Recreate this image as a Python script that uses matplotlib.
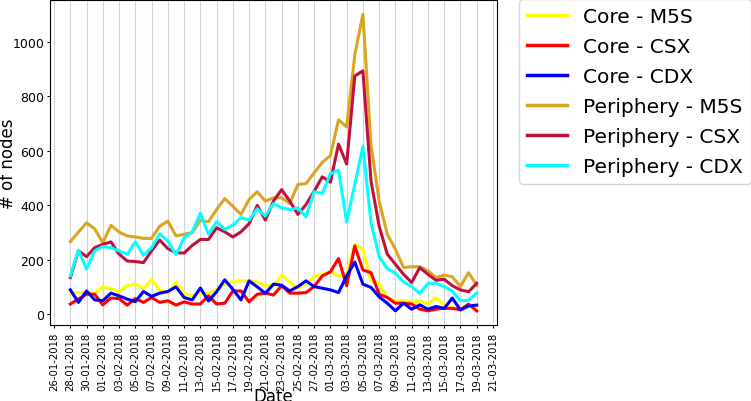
import matplotlib
matplotlib.use("Agg")
import matplotlib.pyplot as plt
import matplotlib.dates as mdates
import pandas as pd

dates = pd.date_range("2018-01-28", "2018-03-19", freq="D")

core_m5s = [77, 79, 79, 77, 100, 94, 82, 104, 110, 94, 128, 88, 77, 118, 76, 67, 77, 76, 89, 110, 120, 122, 122, 118, 104, 104,
            143, 118, 94, 110, 138, 146, 155, 140, 146, 256, 238, 122, 112, 59, 49, 49, 43, 49, 37, 61, 30, 24, 18, 30, 24]
core_csx = [37, 55, 73, 73, 34, 59, 57, 33, 57, 43, 61, 43, 49, 33, 45, 37, 37, 67, 37, 40, 85, 85, 45, 73, 77, 70,
            104, 77, 77, 79, 101, 140, 155, 204, 104, 250, 162, 152, 73, 61, 40, 40, 37, 18, 12, 18, 21, 21, 16, 37, 12]
core_cdx = [89, 43, 85, 52, 49, 77, 67, 55, 46, 83, 65, 77, 83, 100, 61, 52, 96, 48, 82, 126, 91, 52, 122, 100, 76, 110,
            106, 85, 101, 122, 101, 95, 89, 79, 140, 191, 110, 98, 63, 40, 12, 40, 18, 34, 18, 28, 21, 59, 15, 30, 33]
peri_m5s = [266, 301, 335, 313, 262, 326, 301, 287, 283, 278, 278, 323, 341, 287, 293, 299, 344, 339, 384, 424, 396, 366, 421, 449, 415, 427,
            427, 406, 476, 479, 518, 557, 582, 713, 687, 951, 1101, 620, 415, 293, 238, 171, 174, 174, 159, 134, 143, 137, 101, 152, 106]
peri_csx = [134, 232, 211, 244, 256, 265, 220, 195, 193, 189, 232, 272, 240, 226, 224, 252, 274, 274, 317, 302, 283, 302, 332, 399, 345, 415,
            457, 415, 366, 402, 451, 504, 484, 624, 551, 874, 893, 488, 323, 220, 183, 146, 116, 171, 146, 124, 128, 104, 89, 82, 113]
peri_cdx = [140, 235, 165, 232, 248, 244, 232, 220, 265, 216, 244, 295, 268, 218, 280, 302, 370, 293, 339, 311, 327, 354, 345, 387, 360, 406,
            390, 384, 390, 357, 449, 443, 515, 528, 338, 476, 616, 335, 211, 167, 150, 118, 101, 76, 113, 113, 101, 85, 49, 51, 77]

series = [
    ("Core - M5S", core_m5s, "#FFFF00"),
    ("Core - CSX", core_csx, "#FF0000"),
    ("Core - CDX", core_cdx, "#0000FF"),
    ("Periphery - M5S", peri_m5s, "#DAA520"),
    ("Periphery - CSX", peri_csx, "#C0103C"),
    ("Periphery - CDX", peri_cdx, "#00FFFF"),
]

tick_dates = pd.date_range("2018-01-26", "2018-03-21", freq="2D")

fig = plt.figure(figsize=(7.51, 4.02), dpi=100)
ax = fig.add_axes([50/751, 1 - 326/402, 447/751, 325/402])

for label, vals, color in series:
    ax.plot(dates, vals, color=color, linewidth=2.2, label=label)

ax.set_xticks(tick_dates)
ax.xaxis.set_major_formatter(mdates.DateFormatter("%d-%m-%Y"))
ax.tick_params(axis="x", labelrotation=90, labelsize=7.3, length=2.5, pad=2.5)
ax.tick_params(axis="y", labelsize=9, length=2.5, pad=1.5)
ax.set_xlim(pd.Timestamp("2018-01-25 12:00"), pd.Timestamp("2018-03-21 12:00"))
ax.set_ylim(-40, 1153)
ax.set_yticks([0, 200, 400, 600, 800, 1000])
ax.grid(axis="x", color="#d3d3d3", linewidth=0.8)
ax.set_axisbelow(True)
ax.set_xlabel("Date", fontsize=12)
ax.xaxis.set_label_coords(0.5, -0.19)
ax.set_ylabel("# of nodes", fontsize=12, labelpad=-3)

leg = fig.legend(loc="upper left", bbox_to_anchor=(519/751, 1.0), fontsize=14.5,
                 frameon=True, borderaxespad=0.0, labelspacing=0.55)
for line in leg.get_lines():
    line.set_linewidth(2.5)

fig.savefig("out.png", dpi=100)
